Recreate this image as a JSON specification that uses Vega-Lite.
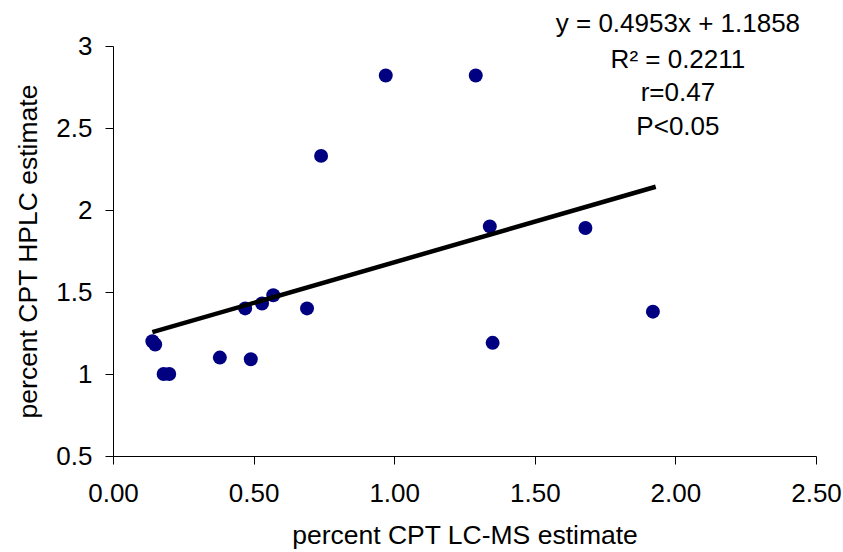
{
  "$schema": "https://vega.github.io/schema/vega-lite/v6.json",
  "width": 703,
  "height": 410,
  "autosize": {"type": "none"},
  "padding": {"left": 113, "top": 46, "right": 27, "bottom": 96},
  "background": "white",
  "config": {
    "view": {"stroke": null},
    "font": "Liberation Sans",
    "axis": {
      "grid": false,
      "domainColor": "black",
      "tickColor": "black",
      "labelColor": "black",
      "titleColor": "black",
      "domainWidth": 1,
      "tickWidth": 1,
      "tickSize": 8,
      "labelFontSize": 26,
      "titleFontSize": 26.5,
      "titleFontWeight": "normal",
      "labelFont": "Liberation Sans",
      "titleFont": "Liberation Sans"
    }
  },
  "datasets": {
    "points": [
      {"x": 0.14, "y": 1.20},
      {"x": 0.15, "y": 1.18},
      {"x": 0.18, "y": 1.00},
      {"x": 0.20, "y": 1.00},
      {"x": 0.38, "y": 1.10},
      {"x": 0.47, "y": 1.40},
      {"x": 0.49, "y": 1.09},
      {"x": 0.53, "y": 1.43},
      {"x": 0.57, "y": 1.48},
      {"x": 0.69, "y": 1.40},
      {"x": 0.74, "y": 2.33},
      {"x": 0.97, "y": 2.82},
      {"x": 1.29, "y": 2.82},
      {"x": 1.34, "y": 1.90},
      {"x": 1.35, "y": 1.19},
      {"x": 1.68, "y": 1.89},
      {"x": 1.92, "y": 1.38}
    ],
    "trend": [
      {"x": 0.14, "y": 1.2551},
      {"x": 1.93, "y": 2.1417}
    ],
    "notes": [
      {"x": 2.009, "y": 3.085, "label": "y = 0.4953x + 1.1858"},
      {"x": 2.009, "y": 2.866, "label": "R² = 0.2211"},
      {"x": 2.009, "y": 2.664, "label": "r=0.47"},
      {"x": 2.009, "y": 2.457, "label": "P<0.05"}
    ]
  },
  "encoding": {
    "x": {
      "field": "x",
      "type": "quantitative",
      "scale": {"domain": [0, 2.5], "nice": false, "zero": false},
      "axis": {
        "title": "percent CPT LC-MS estimate",
        "values": [0, 0.5, 1, 1.5, 2, 2.5],
        "format": ".2f",
        "labelPadding": 16,
        "titleBaseline": "alphabetic",
        "titleY": 87,
        "labelFlush": false,
        "labelOverlap": false
      }
    },
    "y": {
      "field": "y",
      "type": "quantitative",
      "scale": {"domain": [0.5, 3], "nice": false, "zero": false},
      "axis": {
        "title": "percent CPT HPLC estimate",
        "values": [0.5, 1, 1.5, 2, 2.5, 3],
        "format": "~g",
        "labelPadding": 13,
        "titleBaseline": "alphabetic",
        "titleX": -77,
        "titleY": 205,
        "titleAlign": "center",
        "labelFlush": false,
        "labelOverlap": false
      }
    }
  },
  "layer": [
    {
      "data": {"name": "points"},
      "mark": {"type": "point", "filled": true, "shape": "circle", "size": 195, "color": "#000080", "opacity": 1}
    },
    {
      "data": {"name": "trend"},
      "mark": {"type": "line", "color": "black", "strokeWidth": 4.5, "strokeCap": "butt"}
    },
    {
      "data": {"name": "notes"},
      "mark": {"type": "text", "fontSize": 26, "font": "Liberation Sans", "color": "black", "align": "center", "baseline": "alphabetic", "clip": false},
      "encoding": {"text": {"field": "label", "type": "nominal"}}
    }
  ]
}
